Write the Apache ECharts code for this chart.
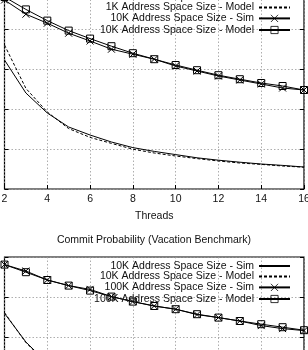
<!DOCTYPE html>
<html><head><meta charset="utf-8">
<script src="https://cdn.jsdelivr.net/npm/echarts@6/dist/echarts.min.js"></script>
<style>html,body{margin:0;padding:0;background:#fff}#c{width:308px;height:350px}</style>
</head><body><div id="c"></div>
<script>
// Threads (x axis)
const threads = [2,3,4,5,6,7,8,9,10,11,12,13,14,15,16];
const xTicks = [2,4,6,8,10,12,14,16];
// Top panel
const sim1K    = [0.645,0.48,0.38,0.31,0.27,0.235,0.207,0.188,0.172,0.156,0.144,0.134,0.125,0.118,0.11];
const model1K  = [0.72,0.503,0.385,0.302,0.258,0.228,0.199,0.18,0.165,0.152,0.14,0.13,0.123,0.115,0.109];
const sim10K   = [0.945,0.874,0.829,0.779,0.74,0.699,0.674,0.649,0.615,0.59,0.565,0.545,0.525,0.505,0.495];
const model10K = [0.96,0.898,0.842,0.792,0.752,0.714,0.679,0.649,0.62,0.594,0.569,0.549,0.53,0.515,0.495];
// Bottom panel (Vacation benchmark)
const vacSim10K    = [0.718,0.575,0.47,0.405,0.355,0.318,0.288,0.263,0.243,0.226,0.211,0.199,0.188,0.178,0.17];
const vacModel10K  = [0.722,0.572,0.466,0.4,0.351,0.314,0.285,0.26,0.24,0.223,0.209,0.197,0.186,0.176,0.168];
const vacSim100K   = [0.962,0.93,0.885,0.857,0.838,0.802,0.777,0.755,0.739,0.712,0.697,0.68,0.657,0.642,0.632];
const vacModel100K = [0.962,0.924,0.885,0.857,0.832,0.802,0.777,0.755,0.739,0.714,0.697,0.68,0.664,0.649,0.634];

const title2 = 'Commit Probability (Vacation Benchmark)';
const names = ['1K Address Space Size - Sim','1K Address Space Size - Model','10K Address Space Size - Sim','10K Address Space Size - Model','100K Address Space Size - Sim','100K Address Space Size - Model'];

const FONT = 'Liberation Sans';
const pairs = arr => threads.map((t,i)=>[t,arr[i]]);
const CROSS = 'path://M0,0L10,10M10,0L0,10';
const SQUARE = 'path://M0,0H10V10H0Z';

function mkSeries(name, data, g, kind){
  const s = {name, type:'line', xAxisIndex:g, yAxisIndex:g, data:pairs(data), animation:false,
    lineStyle:{color:'#000', width:1, type: kind==='dash' ? [3,2] : 'solid'},
    itemStyle:{color:'rgba(0,0,0,0)'}, symbol:'none', silent:true};
  if(kind==='cross'||kind==='square'){
    s.symbol = kind==='cross'?CROSS:SQUARE;
    s.symbolSize = 7;
    s.itemStyle = {color:'none', borderColor:'#000', borderWidth:1};
  }
  return s;
}

const splitY = {show:true, lineStyle:{color:'#999', width:0.8, type:[1.5,2]}};
const splitX = {show:true, lineStyle:{color:'#999', width:0.8, type:[1.5,2]}};
const tickIn = {show:true, inside:true, length:4, lineStyle:{color:'#000', width:1}};

function xAx(g, pos, labels){
  return {gridIndex:g, type:'value', min:2, max:16, interval:2, position:pos,
    axisLine:{show:false}, axisTick:tickIn, splitLine:splitX,
    axisLabel:{show:labels, margin:5, fontSize:10.5, fontFamily:FONT, color:'#111'},
    name: labels ? 'Threads' : '', nameLocation:'middle', nameGap:22,
    nameTextStyle:{fontSize:10.5, fontFamily:FONT, color:'#111'}};
}
function yAx(g, pos, split){
  return {gridIndex:g, type:'value', min:0, max:1, interval:0.2, position:pos,
    axisLine:{show:false}, axisTick:tickIn, splitLine: split?splitY:{show:false},
    axisLabel:{show:false}};
}

const legendBase = {orient:'vertical', align:'right', right:17, padding:0, itemWidth:31, itemHeight:9, itemGap:-0.6,
  itemStyle:{borderWidth:0.8},
  textStyle:{fontSize:10.5, fontFamily:FONT, color:'#111'}, selectedMode:false,
  formatter: n => n.replace(/^B:/,'')};

const option = {
  animation:false,
  backgroundColor:'#fff',
  title:{text:title2, left:'center', top:235, padding:0, textStyle:{fontSize:10.5, fontWeight:'normal', fontFamily:FONT, color:'#111'}},
  grid:[
    {left:4.5, right:4, top:-11, height:200, outerBoundsMode:'none', containLabel:false, show:true, borderColor:'#000', borderWidth:1.2, backgroundColor:'transparent'},
    {left:4.5, right:4, top:257, height:200, outerBoundsMode:'none', containLabel:false, show:true, borderColor:'#000', borderWidth:1.2, backgroundColor:'transparent'}
  ],
  xAxis:[ xAx(0,'bottom',true), xAx(1,'top',false) ],
  yAxis:[ yAx(0,'left',true), yAx(1,'left',true), yAx(0,'right',false), yAx(1,'right',false) ],
  legend:[
    Object.assign({}, legendBase, {top:-8.5, data:[names[0],names[1],names[2],names[3]]}),
    Object.assign({}, legendBase, {top:260.5, data:['B:'+names[2],'B:'+names[3],'B:'+names[4],'B:'+names[5]]})
  ],
  series:[
    mkSeries(names[0], sim1K, 0, 'solid'),
    mkSeries(names[1], model1K, 0, 'dash'),
    mkSeries(names[2], sim10K, 0, 'cross'),
    mkSeries(names[3], model10K, 0, 'square'),
    mkSeries('B:'+names[2], vacSim10K, 1, 'solid'),
    mkSeries('B:'+names[3], vacModel10K, 1, 'dash'),
    mkSeries('B:'+names[4], vacSim100K, 1, 'cross'),
    mkSeries('B:'+names[5], vacModel100K, 1, 'square')
  ]
};
const chart = echarts.init(document.getElementById('c'), null, {renderer:'canvas'});
chart.setOption(option);
</script>
</body></html>
